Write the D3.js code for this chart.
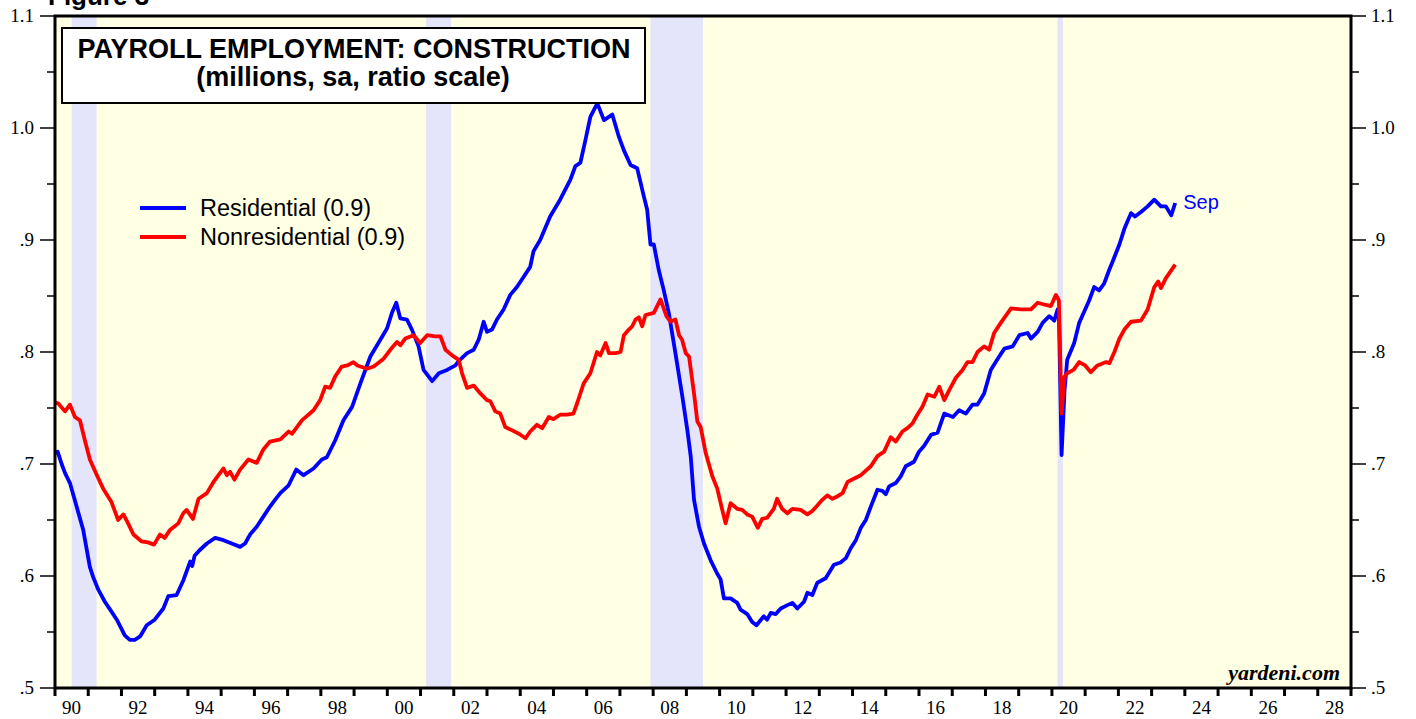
<!DOCTYPE html>
<html lang="en">
<head>
<meta charset="UTF-8">
<title>Payroll Employment: Construction</title>
<script src="https://d3js.org/d3.v7.min.js"></script>
<style>
    body { margin: 0; background: #fff; }
    svg { display: block; }
    .tick-label { font-family: "Liberation Serif", "Times New Roman", serif; font-size: 19px; fill: #000; }
</style>
</head>
<body>
<div id="chart"></div>
<script>
// recession periods (decimal years)
const recessions = [[1990.5, 1991.25], [2001.17, 2001.92], [2007.92, 2009.5], [2020.17, 2020.33]];

// residential construction employment, millions
const residential = [
    [1990.00, .710], [1990.08, .711], [1990.20, .700], [1990.30, .692], [1990.45, .683], [1990.65, .662],
    [1990.85, .641], [1991.05, .608], [1991.15, .599], [1991.30, .588], [1991.50, .577], [1991.66, .570],
    [1991.86, .561], [1992.10, .547], [1992.25, .543], [1992.40, .543], [1992.56, .546], [1992.76, .556],
    [1993.00, .561], [1993.26, .571], [1993.41, .582], [1993.66, .583], [1993.86, .596], [1994.07, .613],
    [1994.13, .609], [1994.20, .618], [1994.35, .623], [1994.57, .629], [1994.82, .634], [1995.07, .632],
    [1995.32, .629], [1995.57, .626], [1995.72, .629], [1995.87, .637], [1996.07, .644], [1996.27, .653],
    [1996.47, .662], [1996.62, .668], [1996.78, .674], [1997.03, .681], [1997.26, .695], [1997.48, .690],
    [1997.78, .696], [1998.03, .704], [1998.18, .706], [1998.43, .721], [1998.68, .739], [1998.94, .751],
    [1999.19, .772], [1999.49, .796], [1999.79, .811], [1999.99, .821], [2000.14, .835], [2000.27, .844],
    [2000.39, .830], [2000.59, .829], [2000.74, .820], [2000.94, .805], [2001.09, .784], [2001.35, .774],
    [2001.55, .781], [2001.80, .784], [2002.05, .788], [2002.15, .792], [2002.40, .799], [2002.60, .802],
    [2002.75, .811], [2002.90, .827], [2003.00, .818], [2003.15, .820], [2003.30, .829], [2003.50, .838],
    [2003.70, .851], [2003.90, .858], [2004.10, .867], [2004.30, .876], [2004.40, .890], [2004.60, .900],
    [2004.90, .921], [2005.20, .936], [2005.51, .954], [2005.66, .966], [2005.81, .969], [2005.96, .989],
    [2006.11, 1.010], [2006.32, 1.022], [2006.52, 1.007], [2006.77, 1.012], [2006.97, .992], [2007.12, .980],
    [2007.32, .967], [2007.52, .964], [2007.72, .939], [2007.82, .927], [2007.92, .896], [2008.02, .896],
    [2008.17, .873], [2008.32, .855], [2008.47, .835], [2008.67, .799], [2008.88, .760], [2009.03, .730],
    [2009.13, .707], [2009.23, .668], [2009.38, .644], [2009.53, .629], [2009.73, .614], [2009.93, .602],
    [2010.03, .597], [2010.13, .580], [2010.33, .580], [2010.53, .576], [2010.63, .570], [2010.83, .566],
    [2010.98, .559], [2011.11, .556], [2011.33, .564], [2011.43, .561], [2011.54, .567], [2011.69, .566],
    [2011.84, .571], [2012.04, .574], [2012.19, .576], [2012.34, .571], [2012.54, .577], [2012.64, .585],
    [2012.79, .583], [2012.94, .594], [2013.19, .598], [2013.44, .610], [2013.64, .612], [2013.80, .616],
    [2013.95, .625], [2014.10, .632], [2014.25, .643], [2014.40, .650], [2014.55, .662], [2014.75, .677],
    [2014.90, .676], [2015.00, .673], [2015.10, .680], [2015.30, .683], [2015.45, .689], [2015.60, .698],
    [2015.85, .702], [2016.00, .711], [2016.15, .716], [2016.36, .726], [2016.56, .728], [2016.76, .745],
    [2017.02, .742], [2017.21, .748], [2017.41, .745], [2017.61, .753], [2017.76, .753], [2017.96, .763],
    [2018.16, .784], [2018.37, .794], [2018.57, .803], [2018.82, .805], [2019.02, .815], [2019.27, .817],
    [2019.37, .812], [2019.57, .818], [2019.72, .826], [2019.92, .832], [2020.07, .828], [2020.17, .838],
    [2020.21, .836], [2020.29, .708], [2020.38, .766], [2020.46, .793], [2020.67, .808], [2020.82, .826],
    [2020.97, .836], [2021.12, .846], [2021.27, .858], [2021.42, .855], [2021.57, .861], [2021.72, .873],
    [2021.87, .884], [2022.03, .896], [2022.18, .910], [2022.38, .924], [2022.50, .921], [2022.68, .925],
    [2022.88, .930], [2023.08, .936], [2023.28, .930], [2023.43, .930], [2023.59, .922], [2023.71, .933]
];

// nonresidential construction employment, millions
const nonresidential = [
    [1990.00, .755], [1990.10, .754], [1990.30, .747], [1990.45, .753], [1990.60, .742], [1990.75, .739],
    [1990.90, .721], [1991.05, .704], [1991.26, .690], [1991.45, .678], [1991.70, .666], [1991.90, .650],
    [1992.06, .655], [1992.20, .647], [1992.36, .637], [1992.60, .631], [1992.80, .630], [1992.98, .628],
    [1993.16, .637], [1993.30, .634], [1993.46, .641], [1993.71, .647], [1993.86, .656], [1993.96, .659],
    [1994.15, .651], [1994.32, .669], [1994.57, .674], [1994.77, .684], [1995.07, .696], [1995.17, .690],
    [1995.27, .693], [1995.40, .686], [1995.57, .695], [1995.82, .704], [1996.07, .701], [1996.27, .713],
    [1996.47, .720], [1996.78, .722], [1997.03, .729], [1997.13, .727], [1997.43, .739], [1997.78, .748],
    [1997.98, .757], [1998.13, .769], [1998.28, .768], [1998.43, .778], [1998.63, .787], [1998.80, .788],
    [1998.98, .791], [1999.10, .788], [1999.39, .785], [1999.59, .787], [1999.89, .794], [2000.09, .802],
    [2000.29, .809], [2000.39, .806], [2000.54, .812], [2000.79, .815], [2000.99, .808], [2001.20, .815],
    [2001.44, .814], [2001.60, .814], [2001.75, .802], [2001.95, .797], [2002.15, .793], [2002.25, .781],
    [2002.40, .768], [2002.60, .770], [2002.80, .763], [2003.00, .757], [2003.10, .756], [2003.25, .747],
    [2003.40, .745], [2003.55, .733], [2003.76, .730], [2003.96, .727], [2004.16, .723], [2004.30, .729],
    [2004.50, .735], [2004.66, .732], [2004.86, .742], [2005.00, .740], [2005.20, .744], [2005.41, .744],
    [2005.60, .745], [2005.71, .754], [2005.91, .772], [2006.11, .781], [2006.31, .800], [2006.41, .797],
    [2006.57, .808], [2006.67, .799], [2006.87, .799], [2007.02, .800], [2007.12, .815], [2007.27, .820],
    [2007.37, .823], [2007.47, .829], [2007.57, .831], [2007.67, .823], [2007.77, .833], [2008.02, .835],
    [2008.22, .847], [2008.40, .832], [2008.52, .827], [2008.67, .829], [2008.78, .815], [2008.87, .811],
    [2008.98, .799], [2009.08, .796], [2009.23, .763], [2009.33, .738], [2009.43, .733], [2009.58, .710],
    [2009.78, .689], [2009.93, .678], [2010.08, .659], [2010.18, .647], [2010.33, .665], [2010.53, .660],
    [2010.68, .659], [2010.83, .655], [2010.98, .653], [2011.15, .643], [2011.28, .651], [2011.43, .652],
    [2011.63, .660], [2011.73, .669], [2011.88, .660], [2012.04, .656], [2012.19, .660], [2012.44, .659],
    [2012.64, .655], [2012.79, .658], [2012.94, .663], [2013.09, .668], [2013.24, .672], [2013.39, .669],
    [2013.54, .671], [2013.70, .674], [2013.85, .684], [2014.05, .687], [2014.25, .690], [2014.55, .698],
    [2014.75, .707], [2014.95, .711], [2015.15, .724], [2015.30, .720], [2015.50, .729], [2015.65, .732],
    [2015.80, .736], [2015.95, .744], [2016.10, .751], [2016.26, .762], [2016.46, .760], [2016.61, .769],
    [2016.76, .757], [2016.91, .766], [2017.11, .777], [2017.31, .784], [2017.46, .791], [2017.61, .791],
    [2017.76, .800], [2017.96, .805], [2018.11, .802], [2018.26, .817], [2018.46, .826], [2018.77, .839],
    [2019.07, .838], [2019.37, .838], [2019.57, .844], [2019.82, .842], [2019.97, .841], [2020.12, .851],
    [2020.21, .846], [2020.29, .745], [2020.38, .778], [2020.46, .781], [2020.65, .784], [2020.82, .791],
    [2021.00, .788], [2021.17, .782], [2021.37, .788], [2021.63, .791], [2021.73, .790], [2021.88, .800],
    [2022.03, .812], [2022.18, .820], [2022.38, .827], [2022.68, .828], [2022.88, .838], [2023.08, .858],
    [2023.20, .863], [2023.28, .857], [2023.43, .866], [2023.71, .878]
];

const yMajor = [0.5, 0.6, 0.7, 0.8, 0.9, 1.0, 1.1];
const yMinor = [0.55, 0.65, 0.75, 0.85, 0.95, 1.05];
const legendItems = [
    { name: "Residential (0.9)", color: "#0000ff", data: residential },
    { name: "Nonresidential (0.9)", color: "#ff0000", data: nonresidential }
];

const width = 1416, height = 719;
const margin = { top: 16, right: 65, bottom: 31, left: 55 };
const x0 = margin.left, x1 = width - margin.right;
const y0 = margin.top, y1 = height - margin.bottom;

const svg = d3.select("#chart").append("svg")
    .attr("width", width)
    .attr("height", height);

const x = d3.scaleLinear().domain([1990, 2029]).range([x0, x1]);
const y = d3.scaleLinear().domain([0.5, 1.1]).range([y1, y0]);

// "Figure 3" header, cut off at the top as in the source image
svg.append("text")
    .attr("x", 48).attr("y", 5)
    .attr("font-family", "Liberation Sans, Arial, sans-serif")
    .attr("font-weight", "bold").attr("font-size", 26)
    .text("Figure 3");

// plot background
svg.append("rect")
    .attr("x", x0).attr("y", y0)
    .attr("width", x1 - x0).attr("height", y1 - y0)
    .attr("fill", "#ffffe3");

// recession bands
svg.selectAll(".recession")
    .data(recessions)
    .enter().append("rect")
    .attr("class", "recession")
    .attr("x", d => x(d[0]))
    .attr("y", y0)
    .attr("width", d => x(d[1]) - x(d[0]))
    .attr("height", y1 - y0)
    .attr("fill", "#e4e4fb");

// series lines
const line = d3.line()
    .x(d => x(d[0]))
    .y(d => y(d[1]));

svg.selectAll(".series")
    .data(legendItems)
    .enter().append("path")
    .attr("class", "series")
    .attr("d", d => line(d.data))
    .attr("fill", "none")
    .attr("stroke", d => d.color)
    .attr("stroke-width", 3.8)
    .attr("stroke-linejoin", "round");

// last-month label
const last = residential[residential.length - 1];
svg.append("text")
    .attr("x", x(last[0]) + 8).attr("y", y(last[1]) + 6)
    .attr("font-family", "Liberation Sans, Arial, sans-serif")
    .attr("font-size", 20).attr("fill", "#0000ff")
    .text("Sep");

// frame
svg.append("rect")
    .attr("x", x0).attr("y", y0)
    .attr("width", x1 - x0).attr("height", y1 - y0)
    .attr("fill", "none").attr("stroke", "#000").attr("stroke-width", 3);

// y axis ticks, both sides
const yTicks = svg.append("g");
yMajor.forEach(v => {
    yTicks.append("line").attr("x1", x0 - 15).attr("x2", x0).attr("y1", y(v)).attr("y2", y(v)).attr("stroke", "#000").attr("stroke-width", 1.5);
    yTicks.append("line").attr("x1", x1).attr("x2", x1 + 15).attr("y1", y(v)).attr("y2", y(v)).attr("stroke", "#000").attr("stroke-width", 1.5);
    const lbl = v >= 1 ? d3.format(".1f")(v) : d3.format(".1f")(v).replace(/^0/, "");
    yTicks.append("text").attr("class", "tick-label")
        .attr("x", x0 - 21).attr("y", y(v)).attr("dy", "0.33em")
        .attr("text-anchor", "end").text(lbl);
    yTicks.append("text").attr("class", "tick-label")
        .attr("x", x1 + 20).attr("y", y(v)).attr("dy", "0.33em")
        .text(lbl);
});
yMinor.forEach(v => {
    yTicks.append("line").attr("x1", x0 - 8).attr("x2", x0).attr("y1", y(v)).attr("y2", y(v)).attr("stroke", "#000").attr("stroke-width", 1.5);
    yTicks.append("line").attr("x1", x1).attr("x2", x1 + 8).attr("y1", y(v)).attr("y2", y(v)).attr("stroke", "#000").attr("stroke-width", 1.5);
});

// x axis: year ticks, labels every other year centred in the year
const years = d3.range(1990, 2030);
svg.append("g").selectAll("line")
    .data(years)
    .enter().append("line")
    .attr("x1", d => x(d)).attr("x2", d => x(d))
    .attr("y1", y1).attr("y2", y1 + 8)
    .attr("stroke", "#000").attr("stroke-width", 3);

svg.append("g").selectAll("text")
    .data(years.filter(d => d % 2 === 0))
    .enter().append("text")
    .attr("class", "tick-label")
    .attr("x", d => x(d + 0.5))
    .attr("y", y1 + 26)
    .attr("text-anchor", "middle")
    .text(d => d3.format("02")(d % 100));

// title box
const title = svg.append("g");
title.append("rect")
    .attr("x", 62).attr("y", 28).attr("width", 583).attr("height", 75)
    .attr("fill", "#fff").attr("stroke", "#000").attr("stroke-width", 2);
title.append("text")
    .attr("x", 354).attr("y", 58)
    .attr("text-anchor", "middle")
    .attr("font-family", "Liberation Sans, Arial, sans-serif")
    .attr("font-weight", "bold").attr("font-size", 27)
    .text("PAYROLL EMPLOYMENT: CONSTRUCTION");
title.append("text")
    .attr("x", 353).attr("y", 86)
    .attr("text-anchor", "middle")
    .attr("font-family", "Liberation Sans, Arial, sans-serif")
    .attr("font-weight", "bold").attr("font-size", 27)
    .text("(millions, sa, ratio scale)");

// legend
const legend = svg.append("g").attr("transform", "translate(140,208)");
legendItems.forEach((d, i) => {
    legend.append("line")
        .attr("x1", 0).attr("x2", 46)
        .attr("y1", i * 29).attr("y2", i * 29)
        .attr("stroke", d.color).attr("stroke-width", 4);
    legend.append("text")
        .attr("x", 60).attr("y", i * 29 + 8)
        .attr("font-family", "Liberation Sans, Arial, sans-serif")
        .attr("font-size", 23.5)
        .text(d.name);
});

// source
svg.append("text")
    .attr("x", 1340).attr("y", 680)
    .attr("text-anchor", "end")
    .attr("font-family", "Liberation Serif, Times New Roman, serif")
    .attr("font-weight", "bold").attr("font-style", "italic")
    .attr("font-size", 22)
    .text("yardeni.com");
</script>
</body>
</html>
